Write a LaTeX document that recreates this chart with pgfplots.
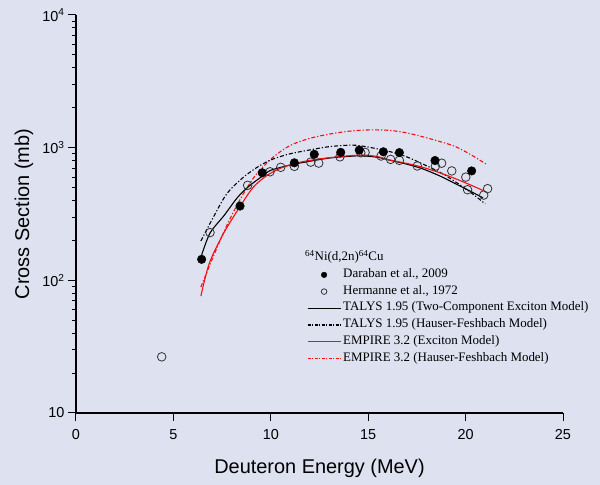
\documentclass[border=0pt]{standalone}
\usepackage{pgfplots}
\pgfplotsset{compat=1.18}
\usepackage{fontspec}
\setmainfont{Liberation Serif}
\newfontfamily\arialf{Liberation Sans}
\newfontfamily\timesf{Liberation Serif}
\definecolor{bgc}{RGB}{221,225,240}
\definecolor{myred}{RGB}{245,15,15}
\begin{document}
\begin{tikzpicture}
\useasboundingbox (-76bp,-72bp) rectangle (524bp,413bp);
\fill[bgc] (-76bp,-72bp) rectangle (524bp,413bp);
\begin{axis}[
  at={(0,0)}, anchor=south west,
  scale only axis, width=487bp, height=398bp,
  xmin=0, xmax=25, ymin=10, ymax=10000, ymode=log,
  axis lines=left, axis line style={-, line width=1.3bp, black},
  xtick={0,5,10,15,20,25}, minor x tick num=0,
  ytick={10,100,1000,10000},
  yticklabels={10,10\textsuperscript{2},10\textsuperscript{3},10\textsuperscript{4}},
  tick align=outside, major tick length=8bp, minor tick length=4bp,
  every tick/.style={black, line width=1bp},
  /pgf/number format/assume math mode=true,
  xticklabel shift=5bp,
  xticklabel style={font=\arialf\fontsize{14.5}{16}\selectfont},
  yticklabel style={font=\arialf\fontsize{14.5}{16}\selectfont},
  xlabel style={font=\arialf\fontsize{20}{24}\selectfont, at={(axis description cs:0.5,-0.1508)}, anchor=base},
  ylabel style={font=\arialf\fontsize{20}{24}\selectfont, at={(axis description cs:-0.0965,0.5)}, anchor=base},
  xlabel={Deuteron Energy (MeV)},
  ylabel={Cross Section (mb)},
  legend cell align=left,
  legend style={draw=none, fill=none, inner sep=0pt, outer sep=0pt,
    at={(axis description cs:0.4743,0.3680)}, anchor=north west,
    font=\timesf\fontsize{13}{15}\selectfont,
    nodes={inner sep=2bp, text height=9bp, text depth=3.7bp, font=\timesf\fontsize{13}{15}\selectfont}},
  legend image code/.code={\draw[mark repeat=2,mark phase=2,#1] plot coordinates {(0bp,0bp) (16.5bp,0bp) (33bp,0bp)};},
  every legend image post/.append style={mark size=2.8bp},
]
\addlegendimage{only marks, mark=*, mark options={fill=black, draw=black}}
\addlegendentry{\timesf Daraban et al., 2009}
\addlegendimage{only marks, mark=o, mark options={draw=black!80, fill=bgc, line width=0.8bp}}
\addlegendentry{\timesf Hermanne et al., 1972}
\addlegendimage{black, line width=1.2bp}
\addlegendentry{\timesf TALYS 1.95 (Two-Component Exciton Model)}
\addlegendimage{black, line width=1.2bp, dash pattern=on 3bp off 1.5bp on 1bp off 1.5bp}
\addlegendentry{\timesf TALYS 1.95 (Hauser-Feshbach Model)}
\addlegendimage{myred, line width=1.2bp}
\addlegendentry{\timesf EMPIRE 3.2 (Exciton Model)}
\addlegendimage{myred, line width=1.2bp, dash pattern=on 3bp off 1.5bp on 1bp off 1.5bp}
\addlegendentry{\timesf EMPIRE 3.2 (Hauser-Feshbach Model)}

% EMPIRE HF
\addplot[forget plot, myred, line width=1.1bp, smooth, dash pattern=on 4bp off 2bp on 1.2bp off 2bp] coordinates {
(6.41,89) (7.18,168) (7.86,282) (8.59,449) (9.27,634) (10.13,850) (11.0,1040) (12.0,1175) (13.0,1265) (14.0,1330) (15.0,1360) (16.1,1350) (17.0,1290) (17.8,1208) (18.7,1110) (19.5,1016) (20.3,880) (21.05,752)};
% TALYS HF
\addplot[forget plot, black, line width=1.1bp, smooth, dash pattern=on 4bp off 2bp on 1.2bp off 2bp] coordinates {
(6.41,198) (7.05,299) (7.74,449) (8.59,598) (9.44,733) (10.13,822) (11.0,900) (12.0,961) (13.0,1018) (14.2,1045) (15.0,1010) (16.1,935) (17.0,850) (17.8,753) (18.7,650) (19.5,550) (20.3,455) (21.0,378)};
% TALYS TCE
\addplot[forget plot, black, line width=1.1bp, smooth] coordinates {
(6.45,155) (6.88,227) (7.6,308) (8.3,423) (8.9,515) (9.6,615) (10.0,675) (11.0,740) (12.0,790) (13.0,835) (14.0,860) (14.7,868) (15.5,845) (16.1,805) (17.0,750) (17.8,692) (18.7,610) (19.5,533) (20.3,465) (20.9,418)};
% EMPIRE exciton
\addplot[forget plot, myred, line width=1.1bp, smooth] coordinates {
(6.41,76) (6.84,134) (7.56,224) (8.42,360) (9.1,503) (9.79,615) (10.5,700) (11.3,765) (12.3,815) (13.5,855) (14.7,880) (15.5,855) (16.1,808) (17.0,760) (17.8,711) (18.7,645) (19.5,582) (20.3,520) (20.9,475)};
% Hermanne 1972
\addplot[forget plot, only marks, mark=o, mark size=4.3bp, mark options={draw=black!80, fill=bgc, line width=0.8bp}] coordinates {
(4.4,26.5) (6.88,229) (8.81,520) (9.96,658) (10.51,711) (11.21,723) (12.05,778) (12.46,765) (13.55,853) (14.62,916) (14.84,922) (15.66,865) (16.15,816) (16.6,802) (17.52,728) (18.45,725) (18.77,764) (19.29,668) (20.01,600) (20.1,482) (20.93,439) (21.13,491)};
% Daraban 2009
\addplot[forget plot, only marks, mark=*, mark size=4.3bp, mark options={fill=black, draw=black}] coordinates {
(6.45,144) (8.42,363) (9.56,647) (11.21,769) (12.23,891) (13.59,922) (14.54,959) (15.78,931) (16.6,918) (18.43,800) (20.31,668)};

\node[anchor=west, inner sep=0pt, font=\timesf\fontsize{13}{15}\selectfont] at (axis description cs:0.470,0.392) {\textsuperscript{64}Ni(d,2n)\textsuperscript{64}Cu};
\end{axis}
\end{tikzpicture}
\end{document}
